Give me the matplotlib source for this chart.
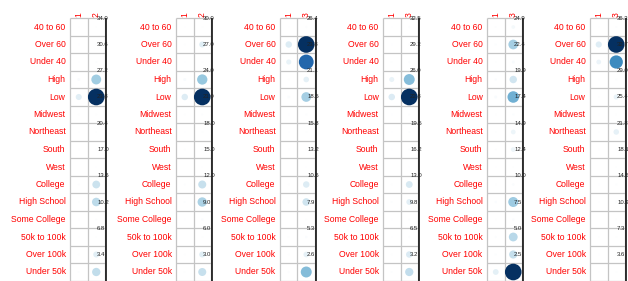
import numpy as np
import matplotlib
matplotlib.use("Agg")
import matplotlib.pyplot as plt
from matplotlib.colors import LinearSegmentedColormap

plt.rcParams['font.family'] = ['Liberation Sans', 'DejaVu Sans']

rows = ["40 to 60", "Over 60", "Under 40", "High", "Low", "Midwest", "Northeast",
        "South", "West", "College", "High School", "Some College", "50k to 100k",
        "Over 100k", "Under 50k"]

# column names per panel
cols1 = ["1", "2"]
cols2 = ["1", "2"]
cols3 = ["1", "3"]
cols4 = ["1", "3"]
cols5 = ["1", "3"]
cols6 = ["1", "3"]

# values per panel (first column, second column)
p1_a = [0.2, 0.2, 0.2, 1.0, 4.5, 0.3, 0.2, 0.2, 0.1, 0.4, 0.3, 0.2, 0.2, 0.3, 0.4]
p1_b = [0.3, 0.5, 0.4, 12.0, 34.0, 0.3, 0.3, 0.5, 0.2, 7.5, 9.0, 0.4, 0.3, 4.5, 8.5]
p2_a = [0.2, 0.3, 0.2, 1.0, 4.5, 0.3, 0.2, 0.3, 0.1, 0.4, 0.4, 0.2, 0.1, 0.3, 0.3]
p2_b = [0.3, 4.0, 0.3, 11.5, 30.0, 0.4, 0.3, 0.5, 0.2, 7.0, 9.5, 0.6, 0.3, 4.0, 7.0]
p3_a = [0.2, 4.0, 2.5, 0.3, 0.7, 0.2, 0.2, 0.2, 0.1, 0.3, 0.4, 0.1, 0.3, 0.3, 0.4]
p3_b = [0.4, 26.4, 21.0, 3.0, 9.0, 0.4, 0.3, 0.3, 0.2, 4.0, 5.5, 0.3, 0.6, 3.0, 11.5]
p4_a = [0.2, 0.2, 0.3, 3.0, 5.0, 0.2, 0.2, 0.2, 0.1, 0.3, 0.4, 0.2, 0.2, 0.3, 0.4]
p4_b = [0.5, 0.4, 0.5, 14.0, 32.5, 0.4, 0.4, 0.5, 0.2, 5.5, 4.0, 0.5, 0.5, 5.0, 8.0]
p5_a = [0.3, 0.4, 0.2, 0.5, 0.8, 0.2, 0.2, 0.3, 0.1, 0.2, 0.5, 0.2, 0.4, 0.4, 3.0]
p5_b = [1.2, 8.5, 0.8, 5.0, 12.0, 0.4, 2.0, 2.0, 0.2, 0.6, 9.0, 0.5, 7.0, 6.0, 24.9]
p6_a = [0.2, 5.0, 3.0, 0.2, 0.3, 0.2, 0.2, 0.2, 0.1, 0.2, 0.2, 0.1, 0.3, 0.2, 0.2]
p6_b = [0.5, 36.3, 23.0, 0.5, 3.5, 0.3, 4.0, 0.5, 0.3, 0.5, 0.6, 0.3, 0.4, 0.5, 0.4]

panels = [(cols1, p1_a, p1_b), (cols2, p2_a, p2_b), (cols3, p3_a, p3_b),
          (cols4, p4_a, p4_b), (cols5, p5_a, p5_b), (cols6, p6_a, p6_b)]

cmap = LinearSegmentedColormap.from_list(
    "blues", ["#FFFFFF", "#D1E5F0", "#92C5DE", "#4393C3", "#2166AC", "#053061"])

W, H, DPI = 628, 281, 100
cell = 17.5
grid_top = 18.25
grid_right = [105, 211, 315, 418, 522, 625]

fig = plt.figure(figsize=(W / DPI, H / DPI), dpi=DPI)
fig.patch.set_facecolor("white")

n = len(rows)
for i, (cnames, va, vb) in enumerate(panels):
    left = 0 if i == 0 else grid_right[i - 1] + 4
    right = W if i == 5 else grid_right[i] + 4
    ax = fig.add_axes([left / W, 0, (right - left) / W, 1])
    ax.set_facecolor("white")
    ax.set_xticks([])
    ax.set_yticks([])
    for s in ax.spines.values():
        s.set_visible(False)

    x_right = 1.5 + (right - grid_right[i]) / cell
    ax.set_xlim(x_right - (right - left) / cell, x_right)
    y_top = -0.5 - grid_top / cell
    ax.set_ylim(y_top + H / cell, y_top)

    vmax = max(max(va), max(vb))
    vals = np.array([va, vb]).T  # n x 2
    xs, ys, sz, cs = [], [], [], []
    for r in range(n):
        for c in range(2):
            v = vals[r, c] / vmax
            d_pt = 0.95 * np.sqrt(v) * cell * 72 / DPI
            xs.append(c)
            ys.append(r)
            sz.append(d_pt ** 2)
            cs.append(cmap(v))

    ax.hlines(np.arange(-0.5, n), -0.5, 1.5, color="#c4c4c4", lw=0.9, zorder=1)
    ax.vlines([-0.5, 0.5, 1.5], -0.5, n - 0.5, color="#c4c4c4", lw=0.9, zorder=1)
    ax.scatter(xs, ys, s=sz, c=cs, linewidths=0, zorder=2)
    ax.vlines(1.5 + 1.2 / cell, -0.5, n - 0.5, color="black", lw=1.1, zorder=3)

    for r, lab in enumerate(rows):
        ax.text(-0.5 - 0.25, r, lab, ha="right", va="center", color="red", fontsize=6.2)
    for c, name in enumerate(cnames):
        ax.text(c, -0.58, name, ha="center", va="bottom", rotation=90,
                color="red", fontsize=6.2)

    # colour legend labels (the 0 label falls off the bottom edge, so skip it)
    ticks = np.linspace(0, vmax, 11)[1:]
    for t in ticks:
        y = n - 0.5 - t / vmax * n
        ax.text(1.5 - 0.45, y, f"{t:.1f}", ha="left", va="center",
                fontsize=4.3, color="#222222", clip_on=False, zorder=4)

fig.savefig("out.png", dpi=DPI)
